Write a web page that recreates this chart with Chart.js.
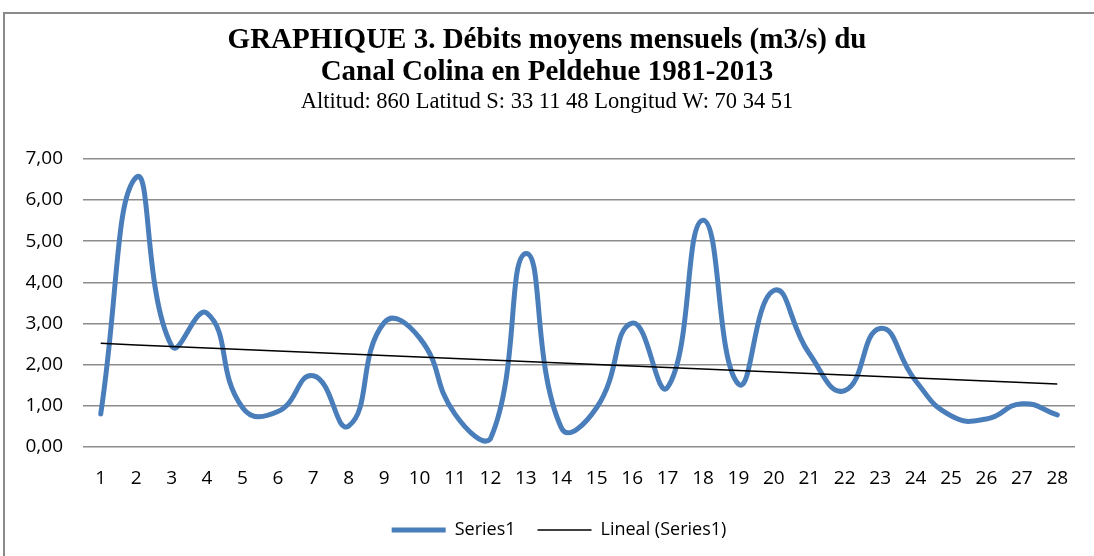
<!DOCTYPE html>
<html>
<head>
<meta charset="utf-8">
<script src="https://cdn.jsdelivr.net/npm/chart.js@4/dist/chart.umd.min.js"></script>
<style>
  html, body { margin: 0; padding: 0; background: #fff; }
  #wrap { position: relative; width: 1094px; height: 556px; overflow: hidden; }
  #frame { position: absolute; left: 3px; top: 12px; width: 1200px; height: 700px; border: 2px solid #8a8a8a; box-sizing: border-box; }
  canvas { position: absolute; left: 0; top: 0; }
</style>
</head>
<body>
<div id="wrap">
  <div id="frame"></div>
  <canvas id="chart" width="1094" height="556"></canvas>
</div>
<script>
// données
const months = ['1','2','3','4','5','6','7','8','9','10','11','12','13','14',
                '15','16','17','18','19','20','21','22','23','24','25','26','27','28'];
const flows = [0.80, 6.55, 2.46, 3.25, 0.96, 0.86, 1.73, 0.51, 3.02, 2.65, 0.80, 0.20, 4.70, 0.47,
               0.96, 3.01, 1.45, 5.51, 1.53, 3.80, 2.27, 1.37, 2.88, 1.61, 0.76, 0.68, 1.05, 0.78];
const titleLines = ['GRAPHIQUE 3. Débits moyens mensuels (m3/s) du', 'Canal Colina en Peldehue 1981-2013'];
const subtitleText = 'Altitud: 860 Latitud S: 33 11 48 Longitud W: 70 34 51';

// tendance linéaire (moindres carrés), comme la courbe de tendance d'Excel
const linearTrend = (ys) => {
    const n = ys.length;
    const xs = ys.map((_, i) => i + 1);
    const mx = xs.reduce((a, b) => a + b, 0) / n;
    const my = ys.reduce((a, b) => a + b, 0) / n;
    let num = 0, den = 0;
    xs.forEach((x, i) => { num += (x - mx) * (ys[i] - my); den += (x - mx) * (x - mx); });
    const slope = num / den;
    return xs.map(x => my + slope * (x - mx));
};
const trend = linearTrend(flows);

const fmt = (v) => v.toFixed(2).replace('.', ',');

// légende un peu décalée vers la droite, comme dans Excel
const legendShift = {
    id: 'legendShift',
    afterLayout(chart) {
        chart.legend.left += 12;
        chart.legend.right += 12;
    }
};

new Chart(document.getElementById('chart'), {
    type: 'line',
    data: {
        labels: months,
        datasets: [{
            label: 'Series1',
            data: flows,
            borderColor: '#4a7ebb',
            backgroundColor: '#4a7ebb',
            borderWidth: 5,
            borderCapStyle: 'round',
            borderJoinStyle: 'round',
            tension: 0.5,
            pointRadius: 0,
            order: 2
        }, {
            label: 'Lineal (Series1)',
            data: trend,
            borderColor: '#000',
            backgroundColor: '#000',
            borderWidth: 1.5,
            tension: 0,
            pointRadius: 0,
            order: 1
        }]
    },
    plugins: [legendShift],
    options: {
        responsive: false,
        animation: false,
        layout: { padding: { top: 25, right: 19, left: 19, bottom: 7 } },
        plugins: {
            title: {
                display: true,
                text: titleLines,
                color: '#000',
                font: { family: 'Liberation Serif', size: 29, weight: 'bold', lineHeight: 1.1 },
                padding: { top: 0, bottom: 0 }
            },
            subtitle: {
                display: true,
                text: subtitleText,
                color: '#000',
                font: { family: 'Liberation Serif', size: 22.5, lineHeight: 1.2 },
                padding: { top: 0, bottom: 43 }
            },
            legend: {
                position: 'bottom',
                labels: {
                    usePointStyle: true,
                    pointStyle: 'line',
                    pointStyleWidth: 54,
                    boxWidth: 54,
                    color: '#000',
                    padding: 22,
                    font: { family: 'Open Sans', size: 18 },
                    sort: (a, b) => a.datasetIndex - b.datasetIndex
                }
            },
            tooltip: { enabled: false }
        },
        scales: {
            x: {
                offset: true,
                grid: { display: false, drawTicks: false },
                border: { display: false },
                ticks: { color: '#000', padding: 20, font: { family: 'Open Sans', size: 19 }, maxRotation: 0 },
                afterFit: (scale) => { scale.height = 52; }
            },
            y: {
                min: 0,
                max: 7,
                ticks: {
                    stepSize: 1,
                    color: '#000',
                    padding: 20,
                    font: { family: 'Open Sans', size: 19 },
                    callback: (v) => fmt(v)
                },
                grid: { color: '#8c8c8c', lineWidth: 1.5, drawTicks: false },
                border: { display: false },
                afterFit: (scale) => { scale.width = 64; }
            }
        }
    }
});
</script>
</body>
</html>
